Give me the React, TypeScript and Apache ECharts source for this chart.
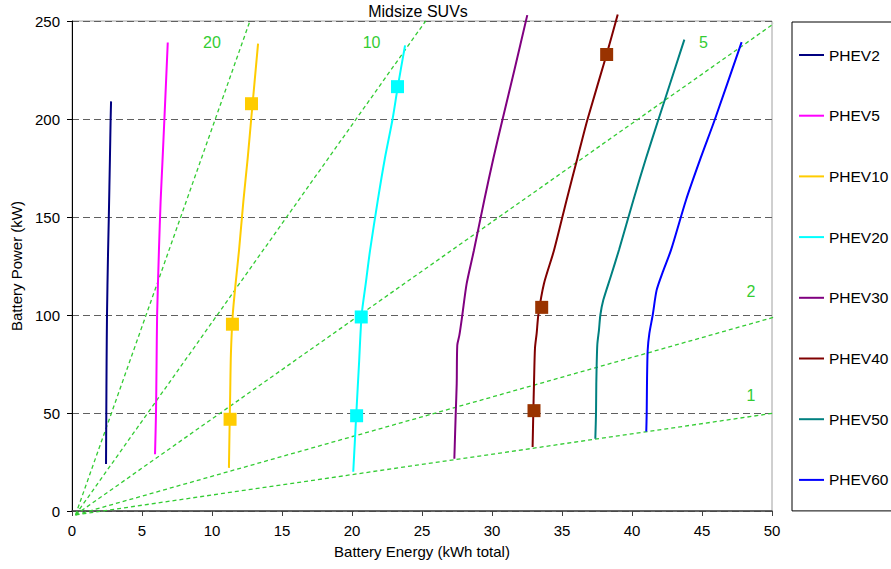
import React, { useEffect, useRef } from "react";
import * as echarts from "echarts";

const FONT = "'Liberation Sans', Arial, sans-serif";

const seriesNames = ["PHEV2", "PHEV5", "PHEV10", "PHEV20", "PHEV30", "PHEV40", "PHEV50", "PHEV60"];
const seriesColors = ["#000080", "#FF00FF", "#FFCC00", "#00FFFF", "#800080", "#800000", "#008080", "#0000FF"];

// [energy kWh, power kW]
const phev2 = [[2.43, 24], [2.45, 50], [2.47, 75], [2.5, 100], [2.57, 130], [2.63, 150], [2.71, 180], [2.76, 200], [2.79, 209]];
const phev5 = [[5.93, 29], [6.0, 50], [6.04, 75], [6.08, 100], [6.21, 133], [6.33, 158], [6.46, 178], [6.6, 200], [6.84, 239]];
const phev10 = [[11.21, 22], [11.25, 40], [11.3, 60], [11.35, 80], [11.48, 100], [11.7, 117], [11.93, 133], [12.24, 158], [12.55, 180], [12.8, 200], [13.29, 238.5]];
const phev20 = [[20.09, 20], [20.2, 35], [20.31, 50], [20.5, 75], [20.69, 100], [21.0, 117], [21.29, 133], [21.83, 158], [22.35, 180], [22.9, 200], [23.26, 216], [23.79, 237.6]];
const phev30 = [[27.31, 26.7], [27.41, 50], [27.48, 65], [27.52, 84.6], [27.67, 89.7], [27.88, 100], [28.19, 116], [28.71, 133], [29.45, 158.7], [30.1, 180], [30.76, 200], [31.6, 225], [32.52, 253]];
const phev40 = [[32.9, 32.6], [32.95, 50], [33.0, 65], [33.07, 83], [33.19, 90.6], [33.31, 100], [33.71, 116], [34.43, 133], [35.33, 158.7], [36.1, 180], [36.83, 200], [38.19, 233], [38.98, 253.3]];
const phev50 = [[37.38, 36.9], [37.43, 50], [37.45, 65], [37.52, 84.6], [37.64, 92.3], [37.74, 100], [37.95, 107.6], [38.5, 120], [39.07, 133.2], [40.1, 158.7], [41.0, 180], [41.9, 200], [43.74, 240.5]];
const phev60 = [[41.02, 40.6], [41.05, 50], [41.07, 65], [41.12, 82], [41.24, 90.6], [41.48, 100], [41.76, 112.7], [42.2, 122], [42.79, 133.2], [43.86, 158.7], [44.9, 180], [45.93, 200], [47.83, 239.2]];
const seriesData = [phev2, phev5, phev10, phev20, phev30, phev40, phev50, phev60];

// square markers
const markers10 = [[11.29, 46.8], [11.46, 95.3], [12.82, 207.8]];
const markers20 = [[20.33, 48.6], [20.66, 99.0], [23.25, 216.5]];
const markers40 = [[33.0, 51.2], [33.55, 103.9], [38.19, 232.9]];
const markerSets = [
  { name: "PHEV10 points", data: markers10, color: "#FFCC00" },
  { name: "PHEV20 points", data: markers20, color: "#00FFFF" },
  { name: "PHEV40 points", data: markers40, color: "#993300" },
];

// power/energy ratio lines
const ratioOrigin = [0.25, -2];
const ratioEnds = [[12.71, 250], [25.26, 250], [50.4, 250], [50.4, 99.4], [50.4, 50.2]];
const ratioLabels = [[10, 239, "20"], [21.4, 239, "10"], [45.1, 239, "5"], [48.5, 112, "2"], [48.5, 59, "1"]];

const xTicks = { min: 0, max: 50, interval: 5 };
const yTicks = { min: 0, max: 250, interval: 50 };

export default function App() {
  const ref = useRef<HTMLDivElement>(null);
  useEffect(() => {
    if (!ref.current) return;
    const chart = echarts.init(ref.current, null, { renderer: "svg" });
    const series: any[] = [];
    ratioEnds.forEach((end, i) => {
      series.push({
        name: "ratio" + i,
        type: "line",
        data: [ratioOrigin, end],
        showSymbol: false,
        symbol: "none",
        clip: false,
        silent: true,
        lineStyle: { color: "#33CC33", width: 1.3, type: [4, 3] },
        z: 1,
      });
    });
    series.push({
      name: "ratioLabels",
      type: "scatter",
      data: ratioLabels,
      symbolSize: 1,
      itemStyle: { color: "rgba(0,0,0,0)", opacity: 1 },
      label: {
        show: true,
        position: "inside",
        formatter: (p: any) => p.value[2],
        color: "#33CC33",
        opacity: 1,
        fontSize: 16,
        fontFamily: FONT,
      },
      z: 2,
    });
    seriesNames.forEach((name, i) => {
      series.push({
        name,
        type: "line",
        data: seriesData[i],
        showSymbol: false,
        symbol: "none",
        smooth: 0.25,
        clip: false,
        itemStyle: { color: seriesColors[i] },
        lineStyle: { color: seriesColors[i], width: 2 },
        z: 3,
      });
    });
    markerSets.forEach((m) => {
      series.push({
        name: m.name,
        type: "scatter",
        data: m.data,
        symbol: "rect",
        symbolSize: 13,
        itemStyle: { color: m.color, opacity: 1 },
        z: 4,
      });
    });

    chart.setOption({
      animation: false,
      backgroundColor: "#ffffff",
      textStyle: { fontFamily: FONT },
      grid: {
        left: 72,
        top: 21,
        width: 700,
        height: 490,
        show: true,
        borderColor: "#A0A0A0",
        borderWidth: 1,
        backgroundColor: "transparent",
      },
      graphic: [
        {
          type: "text",
          x: 418,
          y: 11,
          style: {
            text: "Midsize SUVs",
            textAlign: "center",
            textVerticalAlign: "middle",
            fontSize: 16,
            fontFamily: FONT,
            fill: "#000",
          },
        },
      ],
      legend: {
        data: seriesNames,
        orient: "vertical",
        left: 792,
        top: 22,
        icon: "rect",
        itemWidth: 25,
        itemHeight: 2,
        itemGap: 44.7,
        padding: [25, 40, 23, 7],
        borderColor: "#000",
        borderWidth: 1,
        selectedMode: false,
        textStyle: { fontSize: 15.5, color: "#000", fontFamily: FONT, lineHeight: 16 },
      },
      xAxis: {
        type: "value",
        min: xTicks.min,
        max: xTicks.max,
        interval: xTicks.interval,
        name: "Battery Energy (kWh total)",
        nameLocation: "middle",
        nameGap: 33,
        nameTextStyle: { fontSize: 15, color: "#000", fontFamily: FONT },
        axisLine: { show: true, lineStyle: { color: "#404040", width: 1.5 } },
        axisTick: { show: true, length: 5, lineStyle: { color: "#404040" } },
        axisLabel: { fontSize: 15, color: "#000", margin: 12, fontFamily: FONT },
        splitLine: { show: false },
      },
      yAxis: {
        type: "value",
        min: yTicks.min,
        max: yTicks.max,
        interval: yTicks.interval,
        name: "Battery Power (kW)",
        nameLocation: "middle",
        nameGap: 46,
        nameTextStyle: { fontSize: 15, color: "#000", fontFamily: FONT },
        axisLine: { show: true, lineStyle: { color: "#000", width: 1 } },
        axisTick: { show: true, length: 5, lineStyle: { color: "#000" } },
        axisLabel: { fontSize: 15, color: "#000", margin: 12, fontFamily: FONT },
        splitLine: { show: true, lineStyle: { color: "#606060", width: 1, type: [7, 4] } },
      },
      series,
    });
    return () => chart.dispose();
  }, []);
  return (
    <div
      ref={ref}
      style={{ position: "absolute", left: 0, top: 0, width: 891, height: 569, background: "#fff" }}
    />
  );
}
